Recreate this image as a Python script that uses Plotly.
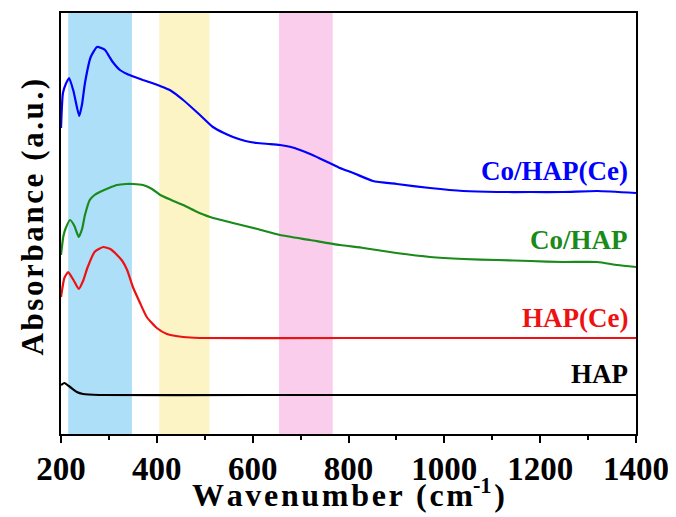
import plotly.graph_objects as go

# Data (arbitrary absorbance units, offset stacked as in the figure)
x_co_hap_ce = [200, 204, 210, 217, 226, 238, 244, 250, 262, 275, 284, 292, 300, 308, 323, 338, 354, 371, 390, 407,
               427, 455, 490, 517, 540, 559, 585, 609, 635, 657, 680, 699, 725, 747, 765, 782, 810, 851, 901, 970,
               1039, 1110, 1180, 1248, 1319, 1400]
y_co_hap_ce = [3.06, 3.41, 3.50, 3.56, 3.43, 3.18, 3.30, 3.51, 3.77, 3.87, 3.86, 3.84, 3.78, 3.72, 3.64, 3.60,
               3.57, 3.54, 3.51, 3.48, 3.44, 3.34, 3.19, 3.07, 3.01, 2.97, 2.93, 2.91, 2.90, 2.89, 2.87, 2.84,
               2.79, 2.74, 2.70, 2.66, 2.61, 2.53, 2.50, 2.46, 2.43, 2.42, 2.42, 2.42, 2.43, 2.41]

x_co_hap = [200, 205, 210, 219, 228, 237, 244, 250, 260, 270, 281, 300, 317, 335, 350, 371, 390, 407, 430, 455,
            480, 511, 559, 610, 657, 720, 782, 831, 900, 970, 1040, 1110, 1180, 1248, 1319, 1361, 1400]
y_co_hap = [1.79, 1.98, 2.06, 2.14, 2.08, 1.97, 2.05, 2.19, 2.34, 2.39, 2.42, 2.46, 2.49, 2.50, 2.50, 2.49,
            2.45, 2.39, 2.34, 2.29, 2.23, 2.17, 2.11, 2.05, 1.99, 1.94, 1.89, 1.86, 1.81, 1.77, 1.75, 1.74,
            1.73, 1.72, 1.72, 1.69, 1.67]

x_hap_ce = [200, 207, 215, 226, 237, 246, 255, 270, 288, 303, 317, 328, 338, 350, 365, 379, 400, 421, 455,
            490, 800, 1100, 1400]
y_hap_ce = [1.37, 1.56, 1.62, 1.54, 1.45, 1.53, 1.66, 1.82, 1.87, 1.85, 1.79, 1.73, 1.64, 1.47, 1.31, 1.17,
            1.06, 1.00, 0.97, 0.96, 0.96, 0.96, 0.96]

x_hap = [200, 207, 219, 233, 246, 280, 600, 1000, 1400]
y_hap = [0.49, 0.51, 0.47, 0.42, 0.40, 0.39, 0.39, 0.39, 0.39]

bands = [(215, 348, "#ade0f8"), (405, 510, "#fdf4c5"), (655, 767, "#fbcdec")]

labels = ["Co/HAP(Ce)", "Co/HAP", "HAP(Ce)", "HAP"]
label_y = [2.63, 1.94, 1.165, 0.60]
colors = ["#0000ff", "#1a8a1a", "#ee1111", "#000000"]

tick_vals = [200, 400, 600, 800, 1000, 1200, 1400]
minor_vals = [300, 500, 700, 900, 1100, 1300]

series = [(x_co_hap_ce, y_co_hap_ce), (x_co_hap, y_co_hap), (x_hap_ce, y_hap_ce), (x_hap, y_hap)]

FONT = "Liberation Serif"
HS = "\u200a"

fig = go.Figure()
for (xs, ys), c, name in zip(series, colors, labels):
    fig.add_trace(go.Scatter(x=xs, y=ys, mode="lines", name=name,
                             line=dict(color=c, width=2.2, shape="spline", smoothing=0.5)))

for x0, x1, c in bands:
    fig.add_shape(type="rect", xref="x", yref="paper", x0=x0, x1=x1, y0=0, y1=1,
                  fillcolor=c, line=dict(width=0), layer="below")

for name, yv, c in zip(labels, label_y, colors):
    fig.add_annotation(x=1388, y=yv, xref="x", yref="y", text="<b>%s</b>" % name, showarrow=False,
                       xanchor="right", yanchor="middle",
                       font=dict(family=FONT, size=27, color=c))

xtitle = HS.join("Wavenumber (cm") + "<sup>-1</sup>" + HS + ")"
ytitle = HS.join("Absorbance (a.u.)")
fig.add_annotation(x=0.5, y=-0.14, xref="paper", yref="paper", text="<b>%s</b>" % xtitle,
                   showarrow=False, xanchor="center", yanchor="middle",
                   font=dict(family=FONT, size=32, color="black"))
fig.add_annotation(x=-0.05, y=0.515, xref="paper", yref="paper", text="<b>%s</b>" % ytitle,
                   showarrow=False, xanchor="center", yanchor="middle", textangle=-90,
                   font=dict(family=FONT, size=31, color="black"))

# The page body adds an 8px margin, so the figure is sized/margined to compensate.
fig.update_layout(
    width=668, height=509,
    margin=dict(l=53, r=40, t=5, b=83),
    paper_bgcolor="white", plot_bgcolor="white",
    showlegend=False,
    font=dict(family=FONT),
    xaxis=dict(range=[200, 1400], tickvals=tick_vals,
               ticktext=["<b>%d</b>" % v for v in tick_vals],
               ticks="outside", ticklen=7, tickwidth=2, tickcolor="black",
               ticklabelstandoff=-3,
               minor=dict(tickvals=minor_vals, ticks="outside", ticklen=4,
                          tickwidth=2, tickcolor="black"),
               showline=True, linecolor="black", linewidth=2, mirror=True,
               showgrid=False, zeroline=False, automargin=False,
               tickfont=dict(family=FONT, size=33, color="black")),
    yaxis=dict(range=[0, 4.21], showticklabels=False, ticks="",
               showline=True, linecolor="black", linewidth=2, mirror=True,
               showgrid=False, zeroline=False, automargin=False),
)

fig.write_html("out.html")
